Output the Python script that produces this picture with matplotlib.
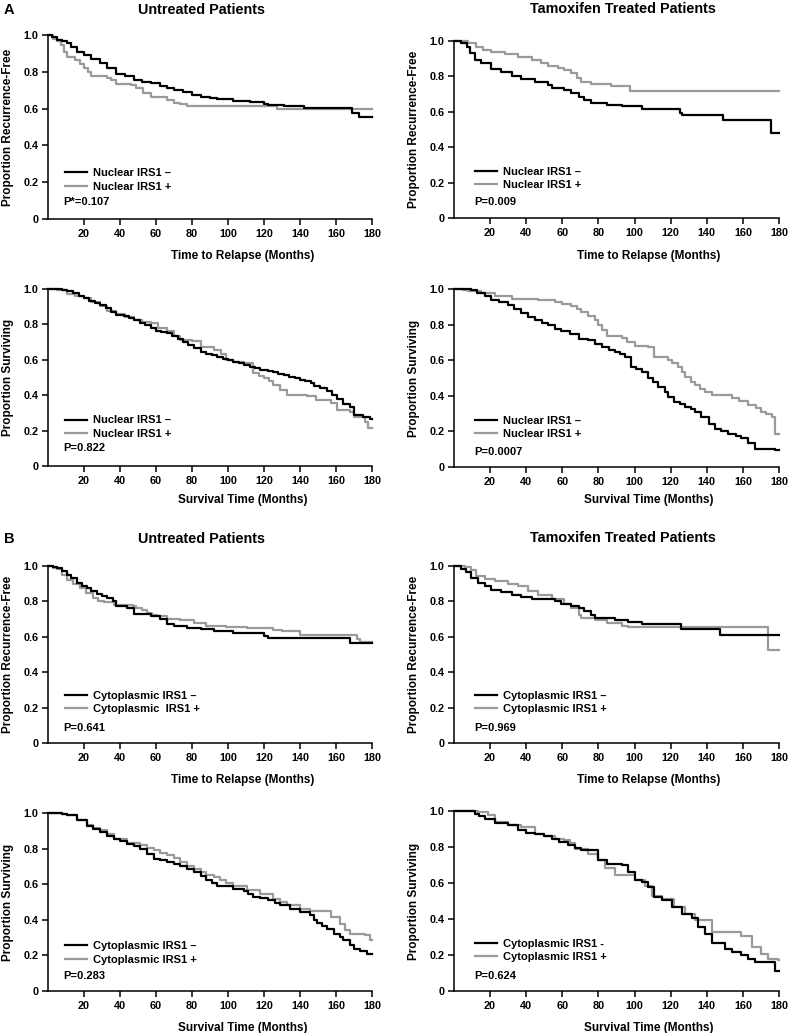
import matplotlib
matplotlib.use("Agg")
import matplotlib.pyplot as plt
from matplotlib.lines import Line2D

plt.rcParams['font.family'] = ['Liberation Sans', 'DejaVu Sans']
plt.rcParams['font.weight'] = 'bold'

# ---------- data (months, proportion) ----------

# A, untreated, recurrence-free, nuclear IRS1
nuc_rfs_unt_neg_t = [0, 2, 5, 8, 10.5, 13, 16, 20, 24, 29, 33, 38, 43, 48, 52, 57, 62, 66, 70, 75,
                     80, 85, 90, 94, 103, 112, 120, 122, 131, 142, 169, 172.6, 180]
nuc_rfs_unt_neg_s = [1.0, 0.99, 0.975, 0.965, 0.955, 0.935, 0.91, 0.89, 0.87, 0.846, 0.82, 0.79, 0.775,
                     0.756, 0.745, 0.738, 0.725, 0.71, 0.70, 0.69, 0.675, 0.665, 0.658, 0.653, 0.644,
                     0.638, 0.625, 0.618, 0.612, 0.602, 0.578, 0.553, 0.553]
nuc_rfs_unt_pos_t = [0, 3, 5, 7, 9, 10.5, 15, 18, 20, 22, 24, 29, 33, 35, 38, 46, 49, 53, 57, 66,
                     70, 73.5, 77, 127, 180]
nuc_rfs_unt_pos_s = [1.0, 0.98, 0.965, 0.946, 0.91, 0.879, 0.864, 0.84, 0.82, 0.80, 0.778, 0.775, 0.765,
                     0.756, 0.732, 0.728, 0.71, 0.684, 0.662, 0.647, 0.633, 0.626, 0.615, 0.597, 0.597]

# A, tamoxifen, recurrence-free, nuclear IRS1
nuc_rfs_tam_neg_t = [0, 4, 7, 8.7, 11.5, 15, 20.7, 26, 32, 37, 45, 52, 54, 61, 65, 69, 72, 76, 85, 93,
                     104, 125, 126.5, 149, 175.5, 180]
nuc_rfs_tam_neg_s = [1.0, 0.987, 0.968, 0.93, 0.893, 0.874, 0.842, 0.827, 0.803, 0.784, 0.767, 0.752,
                     0.733, 0.724, 0.705, 0.682, 0.667, 0.648, 0.639, 0.630, 0.617, 0.596, 0.583, 0.551,
                     0.479, 0.479]
nuc_rfs_tam_pos_t = [0, 7.8, 12, 16, 20.7, 28, 35.5, 43, 48.4, 52, 57.7, 61, 65, 68, 70.6, 76, 87, 97.4, 180]
nuc_rfs_tam_pos_s = [1.0, 0.99, 0.968, 0.949, 0.94, 0.925, 0.912, 0.893, 0.878, 0.861, 0.85, 0.836,
                     0.817, 0.789, 0.771, 0.756, 0.748, 0.718, 0.718]

# A, untreated, overall survival, nuclear IRS1
nuc_os_unt_neg_t = [0, 8, 10.5, 14, 17, 20, 23, 26, 29, 32, 35, 38, 42, 45, 48, 51, 54, 57, 60, 63, 66,
                    69, 72, 75, 78, 81, 85, 88, 91, 94, 97, 100, 103, 106, 109, 112, 115, 118, 122, 125,
                    128, 131, 134, 137, 140, 143, 146, 148, 151, 155, 158, 160.6, 164, 168, 170, 175,
                    179, 180]
nuc_os_unt_neg_s = [1.0, 0.995, 0.99, 0.977, 0.963, 0.949, 0.935, 0.92, 0.907, 0.89, 0.87, 0.854, 0.845,
                    0.835, 0.826, 0.81, 0.795, 0.779, 0.765, 0.758, 0.75, 0.735, 0.72, 0.703, 0.685,
                    0.667, 0.646, 0.635, 0.625, 0.618, 0.605, 0.598, 0.59, 0.58, 0.57, 0.561, 0.552,
                    0.545, 0.537, 0.53, 0.522, 0.514, 0.505, 0.495, 0.486, 0.478, 0.468, 0.454, 0.44,
                    0.425, 0.40, 0.376, 0.35, 0.335, 0.287, 0.278, 0.263, 0.263]
nuc_os_unt_pos_t = [0, 5, 10.5, 15, 20, 24, 29, 33, 38, 43, 48, 52, 57, 61, 66, 70, 73.5, 80, 85, 92,
                    96, 99, 103, 109, 114, 117, 120, 123, 125, 129, 133, 144, 149, 157, 160.6, 168, 170,
                    176, 178, 180]
nuc_os_unt_pos_s = [1.0, 0.995, 0.973, 0.96, 0.949, 0.925, 0.902, 0.875, 0.858, 0.84, 0.826, 0.815,
                    0.807, 0.78, 0.76, 0.735, 0.713, 0.707, 0.671, 0.656, 0.63, 0.599, 0.59, 0.58, 0.524,
                    0.51, 0.495, 0.48, 0.457, 0.43, 0.401, 0.397, 0.372, 0.354, 0.316, 0.306, 0.278,
                    0.25, 0.212, 0.212]

# A, tamoxifen, overall survival, nuclear IRS1
nuc_os_tam_neg_t = [0, 9.6, 13, 17, 20.7, 25, 30, 33, 37, 41, 45, 49, 52, 56, 59.5, 64, 69, 74, 78, 82,
                    86, 89, 92, 94.6, 98, 101, 104, 107.6, 110, 113, 117, 118.6, 122, 125, 128, 131,
                    133.4, 137, 141, 144.5, 148, 152, 156, 159, 163, 166.7, 178, 180]
nuc_os_tam_neg_s = [1.0, 0.996, 0.977, 0.958, 0.94, 0.925, 0.912, 0.89, 0.865, 0.845, 0.827, 0.81,
                    0.795, 0.775, 0.765, 0.745, 0.72, 0.711, 0.69, 0.673, 0.66, 0.648, 0.635, 0.62,
                    0.564, 0.55, 0.536, 0.498, 0.48, 0.451, 0.423, 0.391, 0.367, 0.355, 0.338, 0.325,
                    0.31, 0.282, 0.244, 0.216, 0.205, 0.188, 0.175, 0.164, 0.135, 0.103, 0.094, 0.094]
nuc_os_tam_pos_t = [0, 5, 7.8, 15, 22.5, 32, 46.6, 56, 60, 65, 68, 70.6, 74, 78, 80, 82, 85, 93, 96, 100,
                    107.6, 111, 118.6, 121, 124, 126, 128, 131, 133.4, 136, 139, 142.7, 153.8, 158, 163,
                    167, 170, 173, 176, 177.8, 180]
nuc_os_tam_pos_s = [1.0, 0.995, 0.987, 0.977, 0.959, 0.945, 0.94, 0.927, 0.915, 0.902, 0.885, 0.868,
                    0.85, 0.827, 0.80, 0.771, 0.737, 0.724, 0.70, 0.682, 0.673, 0.62, 0.602, 0.585,
                    0.564, 0.535, 0.508, 0.48, 0.461, 0.44, 0.423, 0.404, 0.385, 0.37, 0.348, 0.33,
                    0.31, 0.295, 0.282, 0.188, 0.188]

# B, untreated, recurrence-free, cytoplasmic IRS1
cyt_rfs_unt_neg_t = [0, 3, 5, 8, 10.5, 13, 16, 19, 21.7, 24, 27, 30, 33, 36, 38, 44, 47.6, 57, 62, 66,
                     70, 77, 85, 92, 103, 120, 122, 168, 180]
cyt_rfs_unt_neg_s = [1.0, 0.995, 0.989, 0.97, 0.951, 0.93, 0.904, 0.885, 0.875, 0.86, 0.843, 0.83,
                     0.818, 0.80, 0.775, 0.762, 0.728, 0.715, 0.699, 0.673, 0.662, 0.648, 0.643, 0.63,
                     0.624, 0.605, 0.592, 0.563, 0.563]
cyt_rfs_unt_pos_t = [0, 3, 5, 8, 10.5, 14, 18, 21, 25, 28, 31, 36.5, 47, 49, 52, 55, 58, 60.5, 66,
                     73.5, 81, 88, 99, 110.5, 125, 130, 140, 171.7, 173.5, 180]
cyt_rfs_unt_pos_s = [1.0, 0.99, 0.983, 0.95, 0.922, 0.90, 0.875, 0.85, 0.822, 0.805, 0.794, 0.778,
                     0.772, 0.762, 0.75, 0.733, 0.725, 0.715, 0.703, 0.696, 0.677, 0.662, 0.654, 0.648,
                     0.639, 0.63, 0.608, 0.586, 0.573, 0.573]

# B, tamoxifen, recurrence-free, cytoplasmic IRS1
cyt_rfs_tam_neg_t = [0, 4, 6.8, 9.6, 13.3, 17, 20.7, 26, 32, 37, 43, 56, 59.5, 65, 69, 72, 76, 78, 89,
                     96.5, 104, 125.5, 147.3, 180]
cyt_rfs_tam_neg_s = [1.0, 0.983, 0.964, 0.932, 0.904, 0.885, 0.866, 0.851, 0.834, 0.824, 0.813, 0.80,
                     0.784, 0.775, 0.762, 0.743, 0.724, 0.705, 0.696, 0.686, 0.675, 0.643, 0.609, 0.609]
cyt_rfs_tam_pos_t = [0, 6, 9.6, 12.4, 17, 22.5, 30, 35.5, 41, 46.6, 54, 61, 65, 69, 70.6, 78, 85, 93,
                     96.5, 173.7, 180]
cyt_rfs_tam_pos_s = [1.0, 0.992, 0.979, 0.945, 0.926, 0.913, 0.898, 0.885, 0.86, 0.837, 0.813, 0.786,
                     0.762, 0.724, 0.705, 0.696, 0.68, 0.662, 0.658, 0.526, 0.526]

# B, untreated, overall survival, cytoplasmic IRS1
cyt_os_unt_neg_t = [0, 8, 10.5, 16, 21.7, 25, 29, 33, 36.5, 40, 44, 48, 51, 55, 58.7, 62, 66, 70, 73.5,
                    77, 81, 85, 88, 91, 94, 103, 108.7, 111, 114, 118, 122, 126, 129, 134.6, 140, 145.7,
                    147.5, 149.4, 152, 155, 158.7, 162, 164, 168, 170, 173.5, 177, 180]
cyt_os_unt_neg_s = [1.0, 0.995, 0.99, 0.959, 0.925, 0.91, 0.893, 0.872, 0.856, 0.843, 0.828, 0.815,
                    0.80, 0.772, 0.743, 0.735, 0.725, 0.712, 0.70, 0.685, 0.669, 0.647, 0.625, 0.605,
                    0.588, 0.575, 0.562, 0.545, 0.528, 0.52, 0.509, 0.495, 0.481, 0.463, 0.444, 0.425,
                    0.40, 0.382, 0.365, 0.35, 0.322, 0.305, 0.288, 0.26, 0.238, 0.225, 0.206, 0.206]
cyt_os_unt_pos_t = [0, 8, 10.5, 16, 21.7, 25, 29, 33, 36.5, 44, 51, 55, 58.7, 62, 66, 70, 73.5, 77, 81,
                    85, 88, 92, 95.7, 99, 103, 110.5, 118, 125, 129, 133, 140, 145.7, 157, 162, 165,
                    168, 176, 179, 180]
cyt_os_unt_pos_s = [1.0, 0.995, 0.99, 0.963, 0.931, 0.915, 0.903, 0.88, 0.856, 0.831, 0.818, 0.805,
                    0.79, 0.777, 0.762, 0.745, 0.725, 0.705, 0.687, 0.67, 0.654, 0.64, 0.625, 0.607,
                    0.588, 0.566, 0.543, 0.519, 0.50, 0.481, 0.463, 0.448, 0.416, 0.378, 0.345, 0.318,
                    0.313, 0.288, 0.288]

# B, tamoxifen, overall survival, cytoplasmic IRS1
cyt_os_tam_neg_t = [0, 11.5, 14, 17, 22.5, 30, 35.5, 40, 44.7, 50, 54, 58, 63, 67, 70.6, 80, 85, 93,
                    96.5, 100, 104, 107.6, 111, 115, 120.5, 126, 131.6, 135, 139, 142.7, 150, 153.8,
                    159, 163, 166.7, 177.8, 180]
cyt_os_tam_neg_s = [1.0, 0.985, 0.97, 0.957, 0.935, 0.92, 0.893, 0.88, 0.874, 0.86, 0.846, 0.83,
                    0.809, 0.795, 0.781, 0.726, 0.707, 0.698, 0.661, 0.619, 0.606, 0.578, 0.522, 0.504,
                    0.467, 0.43, 0.406, 0.356, 0.315, 0.267, 0.235, 0.217, 0.198, 0.18, 0.161, 0.111,
                    0.111]
cyt_os_tam_pos_t = [0, 13.3, 19, 22.5, 30, 37, 44.7, 50, 56, 61, 64, 67, 74, 80, 83.5, 89, 100, 105.7,
                    109.4, 115, 122, 128, 133.4, 137, 142.7, 155.6, 159, 164.8, 170, 174, 179.6, 180]
cyt_os_tam_pos_s = [1.0, 0.994, 0.976, 0.939, 0.92, 0.911, 0.874, 0.86, 0.846, 0.837, 0.82, 0.791,
                    0.763, 0.726, 0.685, 0.643, 0.615, 0.581, 0.526, 0.513, 0.467, 0.426, 0.396, 0.393,
                    0.328, 0.328, 0.304, 0.244, 0.207, 0.18, 0.17, 0.17]

x_ticks = [20, 40, 60, 80, 100, 120, 140, 160, 180]
y_ticks = [0, 0.2, 0.4, 0.6, 0.8, 1.0]
y_tick_labels = ['0', '0.2', '0.4', '0.6', '0.8', '1.0']

GRAY = '#9a9a9a'
W, H = 791, 1033


def px_rect(left, top, right, bottom):
    return [left / W, 1 - bottom / H, (right - left) / W, (bottom - top) / H]


def draw_panel(rect, neg, pos, labels, pval, ylabel, xlabel, xlab_y, leg):
    ax = fig.add_axes(rect)
    ax.step(neg[0], neg[1], where='post', color='black', lw=1.6, clip_on=False, zorder=3)
    ax.step(pos[0], pos[1], where='post', color=GRAY, lw=1.6, clip_on=False, zorder=2)
    ax.set_xlim(0, 180)
    ax.set_ylim(0, 1.0)
    ax.set_xticks(x_ticks)
    ax.set_yticks(y_ticks)
    ax.set_yticklabels(y_tick_labels)
    for s in ['top', 'right']:
        ax.spines[s].set_visible(False)
    for s in ['left', 'bottom']:
        ax.spines[s].set_linewidth(1.1)
    ax.tick_params(direction='out', length=4, width=1.1, labelsize=7.8, pad=3)
    ax.set_ylabel(ylabel, fontsize=8.5, fontweight='bold')
    ax.set_xlabel(xlabel, fontsize=8.5, fontweight='bold')
    ax.xaxis.set_label_coords(0.6, xlab_y)
    ax.yaxis.set_label_coords(-0.105, 0.5)
    handles = [Line2D([], [], color='black', lw=1.6), Line2D([], [], color=GRAY, lw=1.6)]
    lx, ymid, yp = leg
    ax.legend(handles, labels, loc='center left', bbox_to_anchor=(lx, ymid), frameon=False,
              borderpad=0, borderaxespad=0, handlelength=2.0, handletextpad=0.5,
              labelspacing=0.3, prop={'size': 8, 'weight': 'bold'})
    ax.text(lx - 0.004, yp, pval, transform=ax.transAxes, fontsize=8, fontweight='bold', va='center')
    return ax


fig = plt.figure(figsize=(W / 100, H / 100), dpi=100)

nuc_labels = ['Nuclear IRS1 \u2013', 'Nuclear IRS1 +']
rfs = 'Proportion Recurrence-Free'
osl = 'Proportion Surviving'
ttr = 'Time to Relapse (Months)'
stm = 'Survival Time (Months)'

draw_panel(px_rect(48, 35, 372, 219), (nuc_rfs_unt_neg_t, nuc_rfs_unt_neg_s),
           (nuc_rfs_unt_pos_t, nuc_rfs_unt_pos_s), nuc_labels, 'P*=0.107', rfs, ttr, -0.168,
           (0.052, 0.212, 0.092))
draw_panel(px_rect(454, 41, 779, 218), (nuc_rfs_tam_neg_t, nuc_rfs_tam_neg_s),
           (nuc_rfs_tam_pos_t, nuc_rfs_tam_pos_s), nuc_labels, 'P=0.009', rfs, ttr, -0.181,
           (0.065, 0.222, 0.09))
draw_panel(px_rect(48, 289, 372, 466), (nuc_os_unt_neg_t, nuc_os_unt_neg_s),
           (nuc_os_unt_pos_t, nuc_os_unt_pos_s), nuc_labels, 'P=0.822', osl, stm, -0.158,
           (0.052, 0.22, 0.10))
draw_panel(px_rect(454, 289, 779, 467), (nuc_os_tam_neg_t, nuc_os_tam_neg_s),
           (nuc_os_tam_pos_t, nuc_os_tam_pos_s), nuc_labels, 'P=0.0007', osl, stm, -0.152,
           (0.065, 0.222, 0.085))
draw_panel(px_rect(48, 566, 372, 743), (cyt_rfs_unt_neg_t, cyt_rfs_unt_neg_s),
           (cyt_rfs_unt_pos_t, cyt_rfs_unt_pos_s),
           ['Cytoplasmic IRS1 \u2013', 'Cytoplasmic  IRS1 +'], 'P=0.641', rfs, ttr, -0.175,
           (0.052, 0.228, 0.085))
draw_panel(px_rect(454, 566, 779, 743), (cyt_rfs_tam_neg_t, cyt_rfs_tam_neg_s),
           (cyt_rfs_tam_pos_t, cyt_rfs_tam_pos_s),
           ['Cytoplasmic IRS1 \u2013', 'Cytoplasmic IRS1 +'], 'P=0.969', rfs, ttr, -0.175,
           (0.065, 0.228, 0.085))
draw_panel(px_rect(48, 813, 372, 991), (cyt_os_unt_neg_t, cyt_os_unt_neg_s),
           (cyt_os_unt_pos_t, cyt_os_unt_pos_s),
           ['Cytoplasmic IRS1 \u2013', 'Cytoplasmic IRS1 +'], 'P=0.283', osl, stm, -0.174,
           (0.052, 0.214, 0.084))
draw_panel(px_rect(454, 811, 779, 991), (cyt_os_tam_neg_t, cyt_os_tam_neg_s),
           (cyt_os_tam_pos_t, cyt_os_tam_pos_s),
           ['Cytoplasmic IRS1 -', 'Cytoplasmic IRS1 +'], 'P=0.624', osl, stm, -0.172,
           (0.065, 0.225, 0.083))

# section letters and column titles
fig.text(4 / W, 1 - 10 / H, 'A', fontsize=10.5, fontweight='bold', va='center')
fig.text(4 / W, 1 - 539 / H, 'B', fontsize=10.5, fontweight='bold', va='center')
for ty in (10, 539):
    fig.text(202 / W, 1 - ty / H, 'Untreated Patients', fontsize=10.4, fontweight='bold',
             ha='center', va='center')
    fig.text(623 / W, 1 - (ty - 1) / H, 'Tamoxifen Treated Patients', fontsize=10.4,
             fontweight='bold', ha='center', va='center')

fig.savefig('out.png', dpi=100)
